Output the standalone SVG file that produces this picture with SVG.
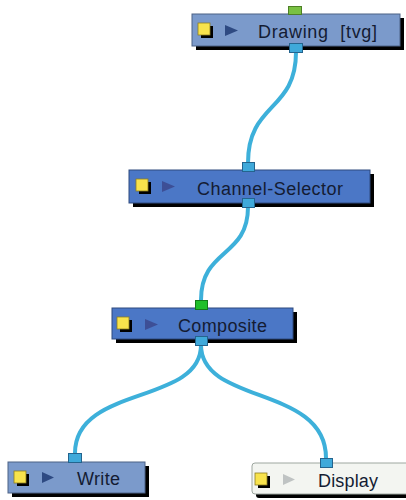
<svg xmlns="http://www.w3.org/2000/svg" width="406" height="500" viewBox="0 0 406 500">
<defs>
<style>
.bg{fill:#ffffff}
.shadow{fill:#000000}
.light{fill:#7b9acb;stroke:#4d6286;stroke-width:1}
.dark{fill:#4b77c6;stroke:#2f4a7e;stroke-width:1}
.white{fill:#f3f5f1;stroke:#9ea7a0;stroke-width:1}
.yel{fill:#f8e34c;stroke:#8d7d22;stroke-width:0.8}
.tri{fill:#2e4a82}
.tri2{fill:#3d4f96}
.trig{fill:#bfc3c3}
.lbl{font-family:"Liberation Sans",Arial,sans-serif;font-size:18px;fill:#141c33}
.pin{fill:#3fa9da;stroke:#24648e;stroke-width:1}
.pgr{fill:#79c142;stroke:#4d7f26;stroke-width:1}
.pgr2{fill:#1fbf2a;stroke:#137a1a;stroke-width:1}
.wire{fill:none;stroke:#3db0da;stroke-width:4;stroke-linecap:round}
</style>
</defs>
<rect class="bg" x="0" y="0" width="406" height="500"/>
<g id="connectors">
<path class="wire" d="M296,52 C296,112 248,102 248,163"/>
<path class="wire" d="M248,207 C248,258 201,248 201,300"/>
<path class="wire" d="M201,345 C201,405 75,385 75,453"/>
<path class="wire" d="M201,345 C201,405 326,385 326,458"/>
</g>
<g id="node-drawing">
<rect class="shadow" x="196" y="18" width="208" height="32"/>
<rect class="light" x="192" y="14" width="208" height="32"/>
<rect class="shadow" x="201" y="26" width="12" height="12"/>
<rect class="yel" x="198" y="23" width="12" height="12"/>
<polygon class="tri" points="225,25 238,30.5 225,36"/>
<text class="lbl" x="258" y="38" textLength="119" lengthAdjust="spacing">Drawing <tspan dx="6">[tvg]</tspan></text>
<rect class="pgr" x="288.5" y="6.5" width="13" height="8"/>
<rect class="pin" x="289.5" y="43.5" width="13" height="9"/>
</g>
<g id="node-channel-selector">
<rect class="shadow" x="133" y="174" width="241" height="33"/>
<rect class="dark" x="129" y="170" width="241" height="33"/>
<rect class="shadow" x="139" y="182" width="12" height="12"/>
<rect class="yel" x="136" y="179" width="12" height="12"/>
<polygon class="tri2" points="162,181 175,186.5 162,192"/>
<text class="lbl" x="197" y="195" textLength="146" lengthAdjust="spacing">Channel-Selector</text>
<rect class="pin" x="242.5" y="162.5" width="12" height="9"/>
<rect class="pin" x="242.5" y="198.5" width="12" height="9"/>
</g>
<g id="node-composite">
<rect class="shadow" x="116" y="312" width="181" height="31"/>
<rect class="dark" x="112" y="308" width="181" height="31"/>
<rect class="shadow" x="120" y="320" width="12" height="12"/>
<rect class="yel" x="117" y="317" width="12" height="12"/>
<polygon class="tri2" points="145,319 158,324.5 145,330"/>
<text class="lbl" x="178" y="332" textLength="89" lengthAdjust="spacing">Composite</text>
<rect class="pgr2" x="195.5" y="300.5" width="12" height="9"/>
<rect class="pin" x="195.5" y="336.5" width="12" height="9"/>
</g>
<g id="node-write">
<rect class="shadow" x="12" y="466" width="137" height="31"/>
<rect class="light" x="8" y="462" width="137" height="31"/>
<rect class="shadow" x="17" y="474" width="12" height="12"/>
<rect class="yel" x="14" y="471" width="12" height="12"/>
<polygon class="tri" points="42,472 54,477.5 42,483"/>
<text class="lbl" x="77" y="485" textLength="43" lengthAdjust="spacing">Write</text>
<rect class="pin" x="68.5" y="453.5" width="13" height="9"/>
</g>
<g id="node-display">
<rect class="shadow" x="256" y="467" width="160" height="31" rx="3"/>
<rect class="white" x="252" y="463" width="160" height="31" rx="3"/>
<rect class="shadow" x="258" y="476" width="12" height="12"/>
<rect class="yel" x="255" y="473" width="12" height="12"/>
<polygon class="trig" points="283,474 295,479.5 283,485"/>
<text class="lbl" x="318" y="487" textLength="60" lengthAdjust="spacing">Display</text>
<rect class="pin" x="320.5" y="458.5" width="12" height="9"/>
</g>
</svg>
